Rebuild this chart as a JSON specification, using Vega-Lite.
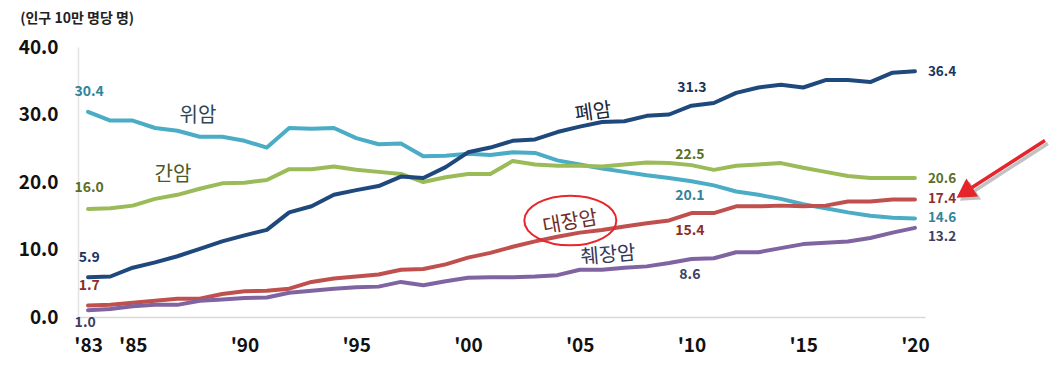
{
  "$schema": "https://vega.github.io/schema/vega-lite/v6.json",
  "width": 847,
  "height": 270,
  "autosize": "none",
  "padding": {"left": 78, "top": 47, "right": 137, "bottom": 67},
  "background": "white",
  "config": {"view": {"stroke": null}, "font": "Noto Sans CJK KR"},
  "title": {"text": "(인구 10만 명당 명)", "anchor": "start", "frame": "bounds", "offset": 12, "dx": 2, "fontSize": 14, "fontWeight": "bold", "color": "#222222", "font": "Noto Sans CJK KR"},
  "datasets": {
    "rates": [
      {"year":1983,"cancer":"위암","rate":30.4},{"year":1984,"cancer":"위암","rate":29.1},{"year":1985,"cancer":"위암","rate":29.1},{"year":1986,"cancer":"위암","rate":28.0},{"year":1987,"cancer":"위암","rate":27.6},{"year":1988,"cancer":"위암","rate":26.7},{"year":1989,"cancer":"위암","rate":26.7},{"year":1990,"cancer":"위암","rate":26.1},{"year":1991,"cancer":"위암","rate":25.1},{"year":1992,"cancer":"위암","rate":28.0},{"year":1993,"cancer":"위암","rate":27.9},{"year":1994,"cancer":"위암","rate":28.0},{"year":1995,"cancer":"위암","rate":26.5},{"year":1996,"cancer":"위암","rate":25.6},{"year":1997,"cancer":"위암","rate":25.7},{"year":1998,"cancer":"위암","rate":23.8},{"year":1999,"cancer":"위암","rate":23.9},{"year":2000,"cancer":"위암","rate":24.2},{"year":2001,"cancer":"위암","rate":24.0},{"year":2002,"cancer":"위암","rate":24.4},{"year":2003,"cancer":"위암","rate":24.3},{"year":2004,"cancer":"위암","rate":23.2},{"year":2005,"cancer":"위암","rate":22.6},{"year":2006,"cancer":"위암","rate":22.0},{"year":2007,"cancer":"위암","rate":21.5},{"year":2008,"cancer":"위암","rate":21.0},{"year":2009,"cancer":"위암","rate":20.6},{"year":2010,"cancer":"위암","rate":20.1},{"year":2011,"cancer":"위암","rate":19.5},{"year":2012,"cancer":"위암","rate":18.6},{"year":2013,"cancer":"위암","rate":18.1},{"year":2014,"cancer":"위암","rate":17.5},{"year":2015,"cancer":"위암","rate":16.7},{"year":2016,"cancer":"위암","rate":16.1},{"year":2017,"cancer":"위암","rate":15.5},{"year":2018,"cancer":"위암","rate":15.0},{"year":2019,"cancer":"위암","rate":14.7},{"year":2020,"cancer":"위암","rate":14.6},
      {"year":1983,"cancer":"간암","rate":16.0},{"year":1984,"cancer":"간암","rate":16.1},{"year":1985,"cancer":"간암","rate":16.5},{"year":1986,"cancer":"간암","rate":17.5},{"year":1987,"cancer":"간암","rate":18.1},{"year":1988,"cancer":"간암","rate":19.0},{"year":1989,"cancer":"간암","rate":19.8},{"year":1990,"cancer":"간암","rate":19.9},{"year":1991,"cancer":"간암","rate":20.3},{"year":1992,"cancer":"간암","rate":21.9},{"year":1993,"cancer":"간암","rate":21.9},{"year":1994,"cancer":"간암","rate":22.3},{"year":1995,"cancer":"간암","rate":21.8},{"year":1996,"cancer":"간암","rate":21.5},{"year":1997,"cancer":"간암","rate":21.2},{"year":1998,"cancer":"간암","rate":20.0},{"year":1999,"cancer":"간암","rate":20.7},{"year":2000,"cancer":"간암","rate":21.2},{"year":2001,"cancer":"간암","rate":21.2},{"year":2002,"cancer":"간암","rate":23.1},{"year":2003,"cancer":"간암","rate":22.6},{"year":2004,"cancer":"간암","rate":22.4},{"year":2005,"cancer":"간암","rate":22.4},{"year":2006,"cancer":"간암","rate":22.3},{"year":2007,"cancer":"간암","rate":22.6},{"year":2008,"cancer":"간암","rate":22.9},{"year":2009,"cancer":"간암","rate":22.8},{"year":2010,"cancer":"간암","rate":22.5},{"year":2011,"cancer":"간암","rate":21.8},{"year":2012,"cancer":"간암","rate":22.4},{"year":2013,"cancer":"간암","rate":22.6},{"year":2014,"cancer":"간암","rate":22.8},{"year":2015,"cancer":"간암","rate":22.1},{"year":2016,"cancer":"간암","rate":21.5},{"year":2017,"cancer":"간암","rate":20.9},{"year":2018,"cancer":"간암","rate":20.6},{"year":2019,"cancer":"간암","rate":20.6},{"year":2020,"cancer":"간암","rate":20.6},
      {"year":1983,"cancer":"폐암","rate":5.9},{"year":1984,"cancer":"폐암","rate":6.0},{"year":1985,"cancer":"폐암","rate":7.3},{"year":1986,"cancer":"폐암","rate":8.1},{"year":1987,"cancer":"폐암","rate":9.0},{"year":1988,"cancer":"폐암","rate":10.1},{"year":1989,"cancer":"폐암","rate":11.2},{"year":1990,"cancer":"폐암","rate":12.1},{"year":1991,"cancer":"폐암","rate":12.9},{"year":1992,"cancer":"폐암","rate":15.5},{"year":1993,"cancer":"폐암","rate":16.4},{"year":1994,"cancer":"폐암","rate":18.1},{"year":1995,"cancer":"폐암","rate":18.8},{"year":1996,"cancer":"폐암","rate":19.4},{"year":1997,"cancer":"폐암","rate":20.8},{"year":1998,"cancer":"폐암","rate":20.6},{"year":1999,"cancer":"폐암","rate":22.2},{"year":2000,"cancer":"폐암","rate":24.4},{"year":2001,"cancer":"폐암","rate":25.1},{"year":2002,"cancer":"폐암","rate":26.1},{"year":2003,"cancer":"폐암","rate":26.3},{"year":2004,"cancer":"폐암","rate":27.4},{"year":2005,"cancer":"폐암","rate":28.2},{"year":2006,"cancer":"폐암","rate":28.9},{"year":2007,"cancer":"폐암","rate":29.0},{"year":2008,"cancer":"폐암","rate":29.8},{"year":2009,"cancer":"폐암","rate":30.0},{"year":2010,"cancer":"폐암","rate":31.3},{"year":2011,"cancer":"폐암","rate":31.7},{"year":2012,"cancer":"폐암","rate":33.2},{"year":2013,"cancer":"폐암","rate":34.0},{"year":2014,"cancer":"폐암","rate":34.4},{"year":2015,"cancer":"폐암","rate":34.0},{"year":2016,"cancer":"폐암","rate":35.1},{"year":2017,"cancer":"폐암","rate":35.1},{"year":2018,"cancer":"폐암","rate":34.8},{"year":2019,"cancer":"폐암","rate":36.2},{"year":2020,"cancer":"폐암","rate":36.4},
      {"year":1983,"cancer":"대장암","rate":1.7},{"year":1984,"cancer":"대장암","rate":1.8},{"year":1985,"cancer":"대장암","rate":2.1},{"year":1986,"cancer":"대장암","rate":2.4},{"year":1987,"cancer":"대장암","rate":2.7},{"year":1988,"cancer":"대장암","rate":2.7},{"year":1989,"cancer":"대장암","rate":3.4},{"year":1990,"cancer":"대장암","rate":3.8},{"year":1991,"cancer":"대장암","rate":3.9},{"year":1992,"cancer":"대장암","rate":4.2},{"year":1993,"cancer":"대장암","rate":5.2},{"year":1994,"cancer":"대장암","rate":5.7},{"year":1995,"cancer":"대장암","rate":6.0},{"year":1996,"cancer":"대장암","rate":6.3},{"year":1997,"cancer":"대장암","rate":7.0},{"year":1998,"cancer":"대장암","rate":7.1},{"year":1999,"cancer":"대장암","rate":7.8},{"year":2000,"cancer":"대장암","rate":8.8},{"year":2001,"cancer":"대장암","rate":9.5},{"year":2002,"cancer":"대장암","rate":10.4},{"year":2003,"cancer":"대장암","rate":11.2},{"year":2004,"cancer":"대장암","rate":11.9},{"year":2005,"cancer":"대장암","rate":12.5},{"year":2006,"cancer":"대장암","rate":12.9},{"year":2007,"cancer":"대장암","rate":13.4},{"year":2008,"cancer":"대장암","rate":13.9},{"year":2009,"cancer":"대장암","rate":14.3},{"year":2010,"cancer":"대장암","rate":15.4},{"year":2011,"cancer":"대장암","rate":15.4},{"year":2012,"cancer":"대장암","rate":16.4},{"year":2013,"cancer":"대장암","rate":16.4},{"year":2014,"cancer":"대장암","rate":16.5},{"year":2015,"cancer":"대장암","rate":16.4},{"year":2016,"cancer":"대장암","rate":16.5},{"year":2017,"cancer":"대장암","rate":17.1},{"year":2018,"cancer":"대장암","rate":17.1},{"year":2019,"cancer":"대장암","rate":17.4},{"year":2020,"cancer":"대장암","rate":17.4},
      {"year":1983,"cancer":"췌장암","rate":1.0},{"year":1984,"cancer":"췌장암","rate":1.2},{"year":1985,"cancer":"췌장암","rate":1.6},{"year":1986,"cancer":"췌장암","rate":1.8},{"year":1987,"cancer":"췌장암","rate":1.8},{"year":1988,"cancer":"췌장암","rate":2.4},{"year":1989,"cancer":"췌장암","rate":2.6},{"year":1990,"cancer":"췌장암","rate":2.8},{"year":1991,"cancer":"췌장암","rate":2.9},{"year":1992,"cancer":"췌장암","rate":3.6},{"year":1993,"cancer":"췌장암","rate":3.9},{"year":1994,"cancer":"췌장암","rate":4.2},{"year":1995,"cancer":"췌장암","rate":4.4},{"year":1996,"cancer":"췌장암","rate":4.5},{"year":1997,"cancer":"췌장암","rate":5.2},{"year":1998,"cancer":"췌장암","rate":4.7},{"year":1999,"cancer":"췌장암","rate":5.3},{"year":2000,"cancer":"췌장암","rate":5.8},{"year":2001,"cancer":"췌장암","rate":5.9},{"year":2002,"cancer":"췌장암","rate":5.9},{"year":2003,"cancer":"췌장암","rate":6.0},{"year":2004,"cancer":"췌장암","rate":6.2},{"year":2005,"cancer":"췌장암","rate":7.0},{"year":2006,"cancer":"췌장암","rate":7.0},{"year":2007,"cancer":"췌장암","rate":7.3},{"year":2008,"cancer":"췌장암","rate":7.5},{"year":2009,"cancer":"췌장암","rate":8.0},{"year":2010,"cancer":"췌장암","rate":8.6},{"year":2011,"cancer":"췌장암","rate":8.7},{"year":2012,"cancer":"췌장암","rate":9.6},{"year":2013,"cancer":"췌장암","rate":9.6},{"year":2014,"cancer":"췌장암","rate":10.2},{"year":2015,"cancer":"췌장암","rate":10.8},{"year":2016,"cancer":"췌장암","rate":11.0},{"year":2017,"cancer":"췌장암","rate":11.2},{"year":2018,"cancer":"췌장암","rate":11.7},{"year":2019,"cancer":"췌장암","rate":12.5},{"year":2020,"cancer":"췌장암","rate":13.2}
    ],
    "valueLabels": [
      {"year":1983.05,"rate":33.26,"cancer":"위암","label":"30.4"},
      {"year":1983.05,"rate":19.04,"cancer":"간암","label":"16.0"},
      {"year":1983.05,"rate":8.81,"cancer":"폐암","label":"5.9"},
      {"year":1983.05,"rate":4.52,"cancer":"대장암","label":"1.7"},
      {"year":1982.87,"rate":-0.85,"cancer":"췌장암","label":"1.0"},
      {"year":2010.02,"rate":34.0,"cancer":"폐암","label":"31.3"},
      {"year":2009.93,"rate":23.93,"cancer":"간암","label":"22.5"},
      {"year":2009.93,"rate":18.0,"cancer":"위암","label":"20.1"},
      {"year":2009.93,"rate":12.81,"cancer":"대장암","label":"15.4"},
      {"year":2009.93,"rate":6.15,"cancer":"췌장암","label":"8.6"}
    ],
    "endLabels": [
      {"year":2020.58,"rate":36.27,"cancer":"폐암","label":"36.4"},
      {"year":2020.58,"rate":20.5,"cancer":"간암","label":"20.6"},
      {"year":2020.58,"rate":17.45,"cancer":"대장암","label":"17.4"},
      {"year":2020.58,"rate":14.6,"cancer":"위암","label":"14.6"},
      {"year":2020.58,"rate":11.85,"cancer":"췌장암","label":"13.2"}
    ]
  },
  "layer": [
    {
      "data": {"name": "rates"},
      "mark": {"type": "line", "strokeWidth": 4, "strokeJoin": "round", "strokeCap": "round"},
      "encoding": {
        "x": {"field": "year", "type": "quantitative",
          "scale": {"domain": [1982.55, 2020.45], "nice": false, "zero": false},
          "axis": {"values": [1983,1985,1990,1995,2000,2005,2010,2015,2020],
            "labelExpr": "\"'\" + slice(format(datum.value, 'd'), 2)",
            "title": null, "grid": false, "ticks": false, "labelFlush": false,
            "domainColor": "#d9d9d9", "domainWidth": 1.5,
            "labelFontSize": 19, "labelFontWeight": "bold", "labelColor": "#111111",
            "labelPadding": 19, "labelFont": "Noto Sans CJK KR"}},
        "y": {"field": "rate", "type": "quantitative",
          "scale": {"domain": [0, 40], "nice": false},
          "axis": {"values": [0,10,20,30,40], "format": ".1f", "title": null, "grid": false, "ticks": false,
            "domainColor": "#e3e3e3", "domainWidth": 1.5,
            "labelFontSize": 19, "labelFontWeight": "bold", "labelColor": "#111111",
            "labelPadding": 20, "labelFont": "Noto Sans CJK KR"}},
        "stroke": {"field": "cancer", "type": "nominal",
          "scale": {"domain": ["위암","간암","폐암","대장암","췌장암"],
                    "range": ["#4BACC6","#9BBB59","#1F497D","#C0504D","#8064A2"]},
          "legend": null},
        "order": {"field": "year", "type": "quantitative"}
      }
    },
    {
      "data": {"name": "valueLabels"},
      "mark": {"type": "text", "fontSize": 14, "fontWeight": "bold", "font": "Noto Sans CJK KR", "align": "center", "baseline": "middle"},
      "encoding": {
        "x": {"field": "year", "type": "quantitative"},
        "y": {"field": "rate", "type": "quantitative"},
        "text": {"field": "label"},
        "fill": {"field": "cancer", "type": "nominal",
          "scale": {"domain": ["위암","간암","폐암","대장암","췌장암"],
                    "range": ["#31849B","#5B6E26","#17375E","#8B2E2B","#403E63"]},
          "legend": null}
      }
    },
    {
      "data": {"name": "endLabels"},
      "mark": {"type": "text", "fontSize": 13.5, "fontWeight": "bold", "font": "Noto Sans CJK KR", "align": "left", "baseline": "middle"},
      "encoding": {
        "x": {"field": "year", "type": "quantitative"},
        "y": {"field": "rate", "type": "quantitative"},
        "text": {"field": "label"},
        "fill": {"field": "cancer", "type": "nominal", "legend": null}
      }
    },
    {
      "data": {"values": [{"year": 1987.92, "rate": 29.85, "name": "위암"}]},
      "mark": {"type": "text", "fontSize": 20, "font": "Noto Sans CJK KR", "color": "#2E4756", "baseline": "middle"},
      "encoding": {"x": {"field": "year", "type": "quantitative"}, "y": {"field": "rate", "type": "quantitative"}, "text": {"field": "name"}}
    },
    {
      "data": {"values": [{"year": 1986.8, "rate": 21.0, "name": "간암"}]},
      "mark": {"type": "text", "fontSize": 20, "font": "Noto Sans CJK KR", "color": "#4B5A28", "baseline": "middle"},
      "encoding": {"x": {"field": "year", "type": "quantitative"}, "y": {"field": "rate", "type": "quantitative"}, "text": {"field": "name"}}
    },
    {
      "data": {"values": [{"year": 2005.6, "rate": 30.3, "name": "폐암"}]},
      "mark": {"type": "text", "fontSize": 20, "font": "Noto Sans CJK KR", "color": "#1C2638", "baseline": "middle", "angle": -8},
      "encoding": {"x": {"field": "year", "type": "quantitative"}, "y": {"field": "rate", "type": "quantitative"}, "text": {"field": "name"}}
    },
    {
      "data": {"values": [{"year": 2004.57, "rate": 14.0, "name": "대장암"}]},
      "mark": {"type": "text", "fontSize": 20, "font": "Noto Sans CJK KR", "color": "#6E2D2A", "baseline": "middle", "angle": -10},
      "encoding": {"x": {"field": "year", "type": "quantitative"}, "y": {"field": "rate", "type": "quantitative"}, "text": {"field": "name"}}
    },
    {
      "data": {"values": [{"year": 2006.27, "rate": 9.1, "name": "췌장암"}]},
      "mark": {"type": "text", "fontSize": 20, "font": "Noto Sans CJK KR", "color": "#34385A", "baseline": "middle", "angle": -5},
      "encoding": {"x": {"field": "year", "type": "quantitative"}, "y": {"field": "rate", "type": "quantitative"}, "text": {"field": "name"}}
    },
    {
      "data": {"values": [{"year": 2004.58, "rate": 14.3}]},
      "mark": {"type": "point", "shape": "M-1,0A1,0.54,0,1,1,1,0A1,0.54,0,1,1,-1,0Z", "size": 8464, "filled": false, "stroke": "#E8262B", "strokeWidth": 2, "opacity": 1},
      "encoding": {"x": {"field": "year", "type": "quantitative"}, "y": {"field": "rate", "type": "quantitative"}}
    },
    {
      "data": {"values": [{"year": 2025.95, "rate": 25.7, "year2": 2022.69, "rate2": 18.75}]},
      "mark": {"type": "rule", "stroke": "#9A9A9A", "strokeWidth": 3.5, "opacity": 0.6},
      "encoding": {"x": {"field": "year", "type": "quantitative"}, "y": {"field": "rate", "type": "quantitative"}, "x2": {"field": "year2"}, "y2": {"field": "rate2"}}
    },
    {
      "data": {"values": [{"year": 2022.47, "rate": 18.23}]},
      "mark": {"type": "point", "shape": "triangle", "size": 460, "filled": true, "fill": "#9A9A9A", "stroke": null, "angle": 237, "opacity": 0.6},
      "encoding": {"x": {"field": "year", "type": "quantitative"}, "y": {"field": "rate", "type": "quantitative"}}
    },
    {
      "data": {"values": [{"year": 2025.82, "rate": 26.15, "year2": 2022.55, "rate2": 19.19}]},
      "mark": {"type": "rule", "stroke": "#E5242B", "strokeWidth": 3.5},
      "encoding": {"x": {"field": "year", "type": "quantitative"}, "y": {"field": "rate", "type": "quantitative"}, "x2": {"field": "year2"}, "y2": {"field": "rate2"}}
    },
    {
      "data": {"values": [{"year": 2022.33, "rate": 18.67}]},
      "mark": {"type": "point", "shape": "triangle", "size": 460, "filled": true, "fill": "#E5242B", "stroke": null, "angle": 237, "opacity": 1},
      "encoding": {"x": {"field": "year", "type": "quantitative"}, "y": {"field": "rate", "type": "quantitative"}}
    }
  ]
}
